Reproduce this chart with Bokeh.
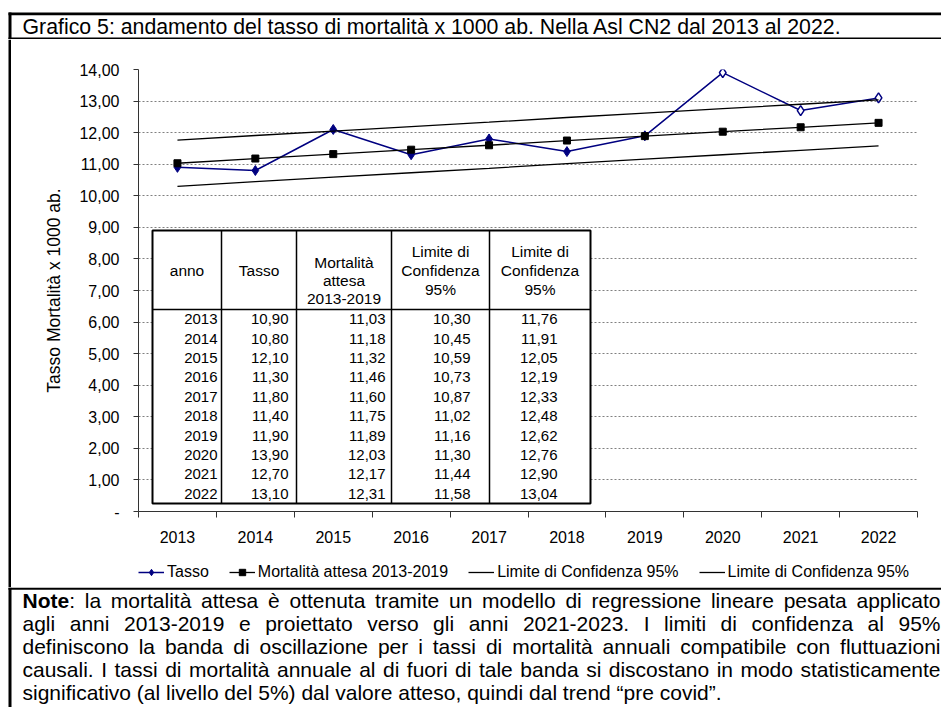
from bokeh.plotting import figure
from bokeh.layouts import column, row
from bokeh.models import Range1d, FixedTicker, Legend, LegendItem
from bokeh.core.properties import value
from bokeh.embed import file_html
from bokeh.resources import INLINE

# ---------------- data ----------------
years = ["2013", "2014", "2015", "2016", "2017", "2018", "2019", "2020", "2021", "2022"]
tasso = [10.90, 10.80, 12.10, 11.30, 11.80, 11.40, 11.90, 13.90, 12.70, 13.10]
attesa = [11.03, 11.18, 11.32, 11.46, 11.60, 11.75, 11.89, 12.03, 12.17, 12.31]
lc_low = [10.30, 10.45, 10.59, 10.73, 10.87, 11.02, 11.16, 11.30, 11.44, 11.58]
lc_high = [11.76, 11.91, 12.05, 12.19, 12.33, 12.48, 12.62, 12.76, 12.90, 13.04]
fit_years = ["2013", "2014", "2015", "2016", "2017", "2018", "2019"]

y_ticks = [0, 1, 2, 3, 4, 5, 6, 7, 8, 9, 10, 11, 12, 13, 14]
y_tick_labels = ["-", "1,00", "2,00", "3,00", "4,00", "5,00", "6,00", "7,00",
                 "8,00", "9,00", "10,00", "11,00", "12,00", "13,00", "14,00"]

series_labels = ["Tasso", "Mortalità attesa 2013-2019",
                 "Limite di Confidenza 95%", "Limite di Confidenza 95%"]
table_header = [["anno"], ["Tasso"], ["Mortalità", "attesa", "2013-2019"],
                ["Limite di", "Confidenza", "95%"], ["Limite di", "Confidenza", "95%"]]
title_text = "Grafico 5: andamento del tasso di mortalità x 1000 ab. Nella Asl CN2 dal 2013 al 2022."
y_axis_title = "Tasso Mortalità x 1000 ab."
note_bold = "Note"
note_lines = [
    "Note: la mortalità attesa è ottenuta tramite un modello di regressione lineare pesata applicato",
    "agli anni 2013-2019 e proiettato verso gli anni 2021-2023. I limiti di confidenza al 95%",
    "definiscono la banda di oscillazione per i tassi di mortalità annuali compatibile con fluttuazioni",
    "causali. I tassi di mortalità annuale al di fuori di tale banda si discostano in modo statisticamente",
    "significativo (al livello del 5%) dal valore atteso, quindi dal trend “pre covid”.",
]

# ---------------- style / layout (page pixels, origin top-left) ----------------
FONT = "Liberation Sans"
NAVY = "#000080"
AXIS_COLOR = "#333333"
PAGE_W = 941
TITLE_H = 39
CHART_H = 514
LEG_H = 34
NOTE_H = 120
STRIP_W = 11
BORDER_X0 = 8
CHART_W = PAGE_W - STRIP_W
BL, BT, BB = 127, 30, 42
FRAME_W = 779
BR = CHART_W - BL - FRAME_W
FRAME_X0 = STRIP_W + BL
FRAME_Y0 = TITLE_H + BT
FRAME_H = CHART_H - BT - BB
Y_MAX = 14

# Helvetica/Arial advance widths (1/1000 em), used for justifying the note
CW = {' ': 278, '!': 278, '%': 889, '(': 333, ')': 333, ',': 278, '-': 333, '.': 278,
      '/': 278, ':': 278, ';': 278, '“': 333, '”': 333,
      'A': 667, 'B': 667, 'C': 722, 'D': 722, 'E': 667, 'F': 611, 'G': 778, 'H': 722,
      'I': 278, 'J': 500, 'K': 667, 'L': 556, 'M': 833, 'N': 722, 'O': 778, 'P': 667,
      'Q': 778, 'R': 722, 'S': 667, 'T': 611, 'U': 722, 'V': 667, 'W': 944, 'X': 667,
      'Y': 667, 'Z': 611,
      'a': 556, 'b': 556, 'c': 500, 'd': 556, 'e': 556, 'f': 278, 'g': 556, 'h': 556,
      'i': 222, 'j': 222, 'k': 500, 'l': 222, 'm': 833, 'n': 556, 'o': 556, 'p': 556,
      'q': 556, 'r': 333, 's': 500, 't': 278, 'u': 556, 'v': 500, 'w': 722, 'x': 500,
      'y': 500, 'z': 500, 'à': 556, 'è': 556, 'é': 556, 'ì': 278, 'ò': 556, 'ù': 556}
BW = {'N': 722, 'o': 611, 't': 333, 'e': 556}


def tw(s, size, bold=False):
    tab = BW if bold else CW
    return sum(tab.get(c, 556) for c in s) * size / 1000.0


def dx(px):
    return (px - FRAME_X0) / FRAME_W * len(years)


def dy(py):
    return Y_MAX - (py - FRAME_Y0) / FRAME_H * Y_MAX


def box_fig(w, h):
    f = figure(width=w, height=h, x_range=Range1d(0, w), y_range=Range1d(h, 0),
               x_axis_type=None, y_axis_type=None, output_backend="svg", toolbar_location=None,
               min_border=0, outline_line_color=None, background_fill_color="white",
               border_fill_color="white")
    f.grid.visible = False
    return f


# ---------------- title box ----------------
pt = box_fig(PAGE_W, TITLE_H)
pt.quad(left=[BORDER_X0, BORDER_X0, BORDER_X0], right=[PAGE_W, PAGE_W, STRIP_W],
        top=[12, 37, 12], bottom=[14.8, 39, 39], fill_color="black", line_color=None)
pt.text(x=[22], y=[26], text=[title_text], text_font=value(FONT), text_font_size="21.3px",
        text_baseline="middle", text_align="left", text_color="black")

# ---------------- chart ----------------
n = len(years)
xc = [i + 0.5 for i in range(n)]

p = figure(width=CHART_W, height=CHART_H, x_range=Range1d(0, n), y_range=Range1d(0, Y_MAX),
           output_backend="svg", toolbar_location=None,
           min_border_left=BL, min_border_right=BR, min_border_top=BT, min_border_bottom=BB,
           outline_line_color=None, background_fill_color="white", border_fill_color="white")

xa = p.xaxis[0]
xa.ticker = FixedTicker(ticks=xc, minor_ticks=list(range(n + 1)))
xa.major_label_overrides = {x: y for x, y in zip(xc, years)}
xa.major_tick_out = 0
xa.major_tick_in = 0
xa.minor_tick_out = 6
xa.minor_tick_in = 0
xa.minor_tick_line_color = AXIS_COLOR
xa.axis_line_color = AXIS_COLOR
xa.major_label_text_font = FONT
xa.major_label_text_font_size = "16px"
xa.major_label_text_color = "black"
xa.major_label_standoff = 13
p.xgrid.visible = False

ya = p.yaxis[0]
ya.ticker = FixedTicker(ticks=y_ticks, minor_ticks=[])
ya.major_label_overrides = dict(zip(y_ticks, y_tick_labels))
ya.major_tick_out = 5
ya.major_tick_in = 0
ya.minor_tick_out = 0
ya.minor_tick_in = 0
ya.major_tick_line_color = AXIS_COLOR
ya.axis_line_color = AXIS_COLOR
ya.major_label_text_font = FONT
ya.major_label_text_font_size = "16px"
ya.major_label_text_color = "black"
ya.major_label_standoff = 14
ya.axis_label = y_axis_title
ya.axis_label_text_font = FONT
ya.axis_label_text_font_size = "17.5px"
ya.axis_label_text_font_style = "normal"
ya.axis_label_text_color = "black"
ya.axis_label_standoff = 12
p.ygrid.grid_line_dash = "2 2"
p.ygrid.grid_line_color = "#808080"
p.ygrid.grid_line_width = 1

# ---- data table drawn over the plot area (pixel geometry of the table) ----
col_edges = [152, 221, 296, 391, 489, 590]
tab_top, head_bot, tab_bot = 230, 309, 503
num_right = [217, 288, 385, 470, 557]
head_rows = {1: [270], 3: [262, 280, 298]}
head_rows_lc = [251, 270, 289]
row_h = (tab_bot - head_bot) / n

p.quad(left=[dx(col_edges[0])], right=[dx(col_edges[-1])], top=[dy(tab_top)], bottom=[dy(tab_bot)],
       fill_color="white", line_color="black", line_width=2)
p.segment(x0=[dx(e) for e in col_edges[1:-1]], y0=[dy(tab_top)] * 4,
          x1=[dx(e) for e in col_edges[1:-1]], y1=[dy(tab_bot)] * 4,
          line_color="black", line_width=1.5)
p.segment(x0=[dx(col_edges[0])], y0=[dy(head_bot)], x1=[dx(col_edges[-1])], y1=[dy(head_bot)],
          line_color="black", line_width=1.5)

hx, hy, ht = [], [], []
for ci, lines in enumerate(table_header):
    cx = (col_edges[ci] + col_edges[ci + 1]) / 2
    ys_ = head_rows_lc if ci >= 3 else head_rows[len(lines)]
    for t, yy in zip(lines, ys_):
        hx.append(dx(cx)); hy.append(dy(yy)); ht.append(t)
p.text(x=hx, y=hy, text=ht, text_font=value(FONT), text_font_size="15.5px",
       text_align="center", text_baseline="middle", text_color="black")

columns = [years,
           [f"{v:.2f}".replace(".", ",") for v in tasso],
           [f"{v:.2f}".replace(".", ",") for v in attesa],
           [f"{v:.2f}".replace(".", ",") for v in lc_low],
           [f"{v:.2f}".replace(".", ",") for v in lc_high]]
tx, ty, tt = [], [], []
for ci, vals in enumerate(columns):
    for ri, t in enumerate(vals):
        tx.append(dx(num_right[ci])); ty.append(dy(head_bot + row_h * (ri + 0.5))); tt.append(t)
p.text(x=tx, y=ty, text=tt, text_font=value(FONT), text_font_size="15px",
       text_align="right", text_baseline="middle", text_color="black")

# ---- series ----
nfit = len(fit_years)


def draw_series(fig):
    r = {}
    r["tl"] = fig.line(xc, tasso, line_color=NAVY, line_width=1.5)
    r["tf"] = fig.scatter(xc[:nfit], tasso[:nfit], marker="diamond", size=10,
                          fill_color=NAVY, line_color=NAVY, line_width=1)
    r["th"] = fig.scatter(xc[nfit:], tasso[nfit:], marker="diamond", size=10,
                          fill_color="white", line_color=NAVY, line_width=1.5)
    r["al"] = fig.line(xc, attesa, line_color="black", line_width=1.3)
    r["as"] = fig.scatter(xc, attesa, marker="square", size=7, fill_color="black", line_color="black")
    r["lo"] = fig.line(xc, lc_low, line_color="black", line_width=1.3)
    r["hi"] = fig.line(xc, lc_high, line_color="black", line_width=1.3)
    return r


draw_series(p)

# ---------------- legend strip (under the x labels) ----------------
# same series in a strip whose y range lies below the data, so only the legend shows
pl = figure(width=CHART_W, height=LEG_H, x_range=Range1d(0, n), y_range=Range1d(0, 1),
            x_axis_type=None, y_axis_type=None, output_backend="svg", toolbar_location=None,
            min_border_left=BL, min_border_right=BR, min_border_top=0, min_border_bottom=0,
            outline_line_color=None, background_fill_color="white", border_fill_color="white")
pl.grid.visible = False
k = draw_series(pl)
legend = Legend(items=[LegendItem(label=series_labels[0], renderers=[k["tl"], k["tf"]]),
                       LegendItem(label=series_labels[1], renderers=[k["al"], k["as"]]),
                       LegendItem(label=series_labels[2], renderers=[k["lo"]]),
                       LegendItem(label=series_labels[3], renderers=[k["hi"]])],
                orientation="horizontal", location=(0, 6),
                border_line_color=None, background_fill_alpha=0,
                label_text_font=FONT, label_text_font_size="16px", label_text_color="black",
                glyph_width=26, glyph_height=16, label_height=16, label_standoff=3,
                spacing=20, padding=2, margin=0)
pl.add_layout(legend, "center")

# left border of the chart region
strip = box_fig(STRIP_W, CHART_H + LEG_H)
strip.quad(left=[BORDER_X0], right=[STRIP_W], top=[0], bottom=[CHART_H + LEG_H],
           fill_color="black", line_color=None)

# ---------------- note ----------------
pn = box_fig(PAGE_W, NOTE_H)
pn.quad(left=[BORDER_X0, BORDER_X0], right=[PAGE_W, STRIP_W], top=[0, 0], bottom=[2.2, NOTE_H],
        fill_color="black", line_color=None)

NOTE_SIZE = 21
note_x0, note_x1 = 22, 940
line_y0, line_dy = 13, 23
xs, ys, ts = [], [], []
bx, by, bt = [], [], []
for li, line in enumerate(note_lines):
    words = line.split(" ")
    yy = line_y0 + li * line_dy
    widths = []
    for w in words:
        if li == 0 and w.startswith(note_bold):
            widths.append(tw(note_bold, NOTE_SIZE, True) + tw(w[len(note_bold):], NOTE_SIZE))
        else:
            widths.append(tw(w, NOTE_SIZE))
    if li == len(note_lines) - 1:
        gap = tw(" ", NOTE_SIZE)
    else:
        gap = max((note_x1 - note_x0 - sum(widths)) / (len(words) - 1), 2.0)
    x = note_x0
    for w, wd in zip(words, widths):
        if li == 0 and w.startswith(note_bold):
            bx.append(x); by.append(yy); bt.append(note_bold)
            xs.append(x + tw(note_bold, NOTE_SIZE, True)); ys.append(yy); ts.append(w[len(note_bold):])
        else:
            xs.append(x); ys.append(yy); ts.append(w)
        x += wd + gap

pn.text(x=xs, y=ys, text=ts, text_font=value(FONT), text_font_size=f"{NOTE_SIZE}px",
        text_align="left", text_baseline="middle", text_color="black")
pn.text(x=bx, y=by, text=bt, text_font=value(FONT), text_font_size=f"{NOTE_SIZE}px",
        text_font_style=value("bold"), text_align="left", text_baseline="middle", text_color="black")

layout = column(pt, row(strip, column(p, pl, spacing=0), spacing=0), pn, spacing=0)

with open("out.html", "w") as f:
    f.write(file_html(layout, INLINE, title="Grafico 5"))
